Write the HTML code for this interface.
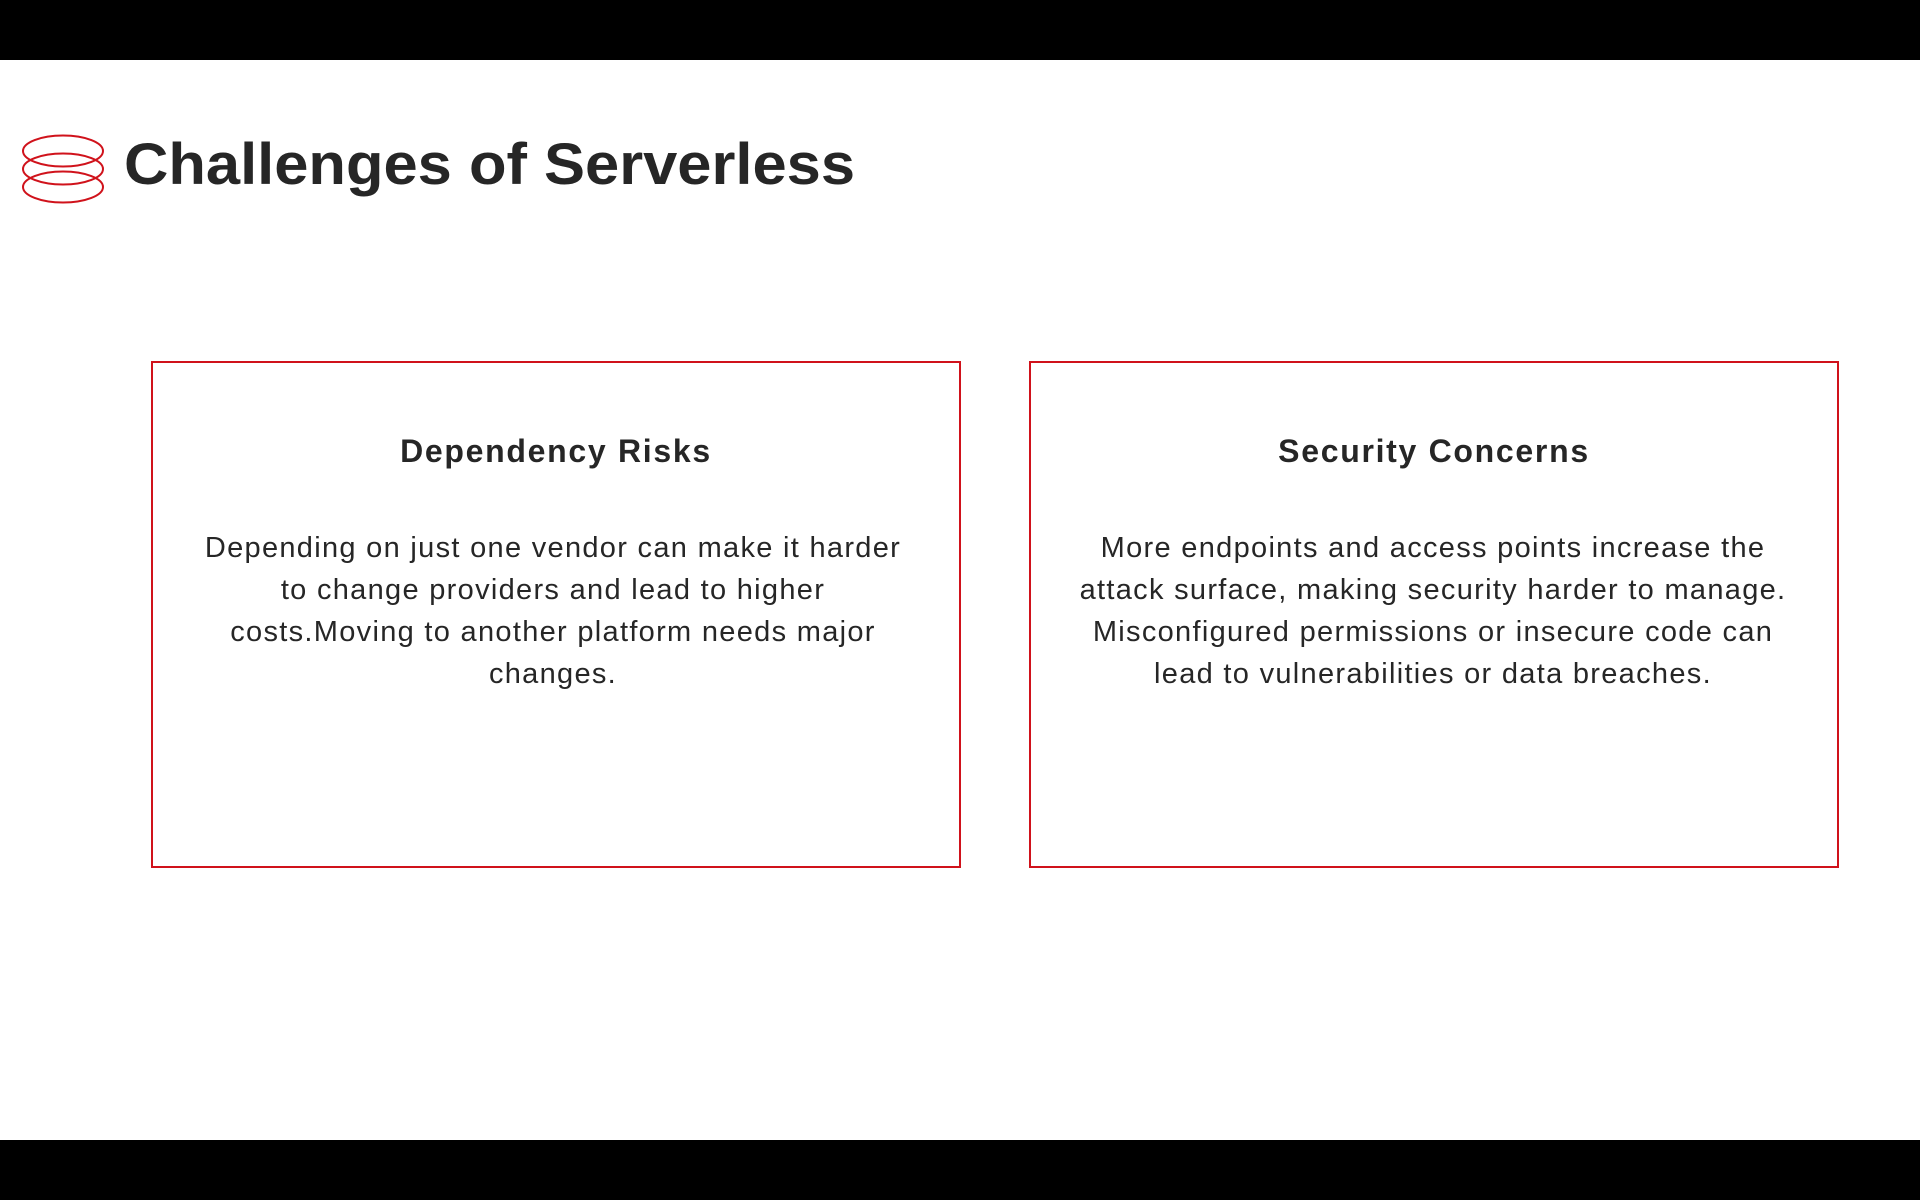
<!DOCTYPE html>
<html><head><meta charset="utf-8"><style>
body{margin:0;width:1920px;height:1200px;position:relative;background:#fff;font-family:"Liberation Sans",sans-serif;color:#262626;overflow:hidden}
.bar{position:absolute;left:0;width:1920px;background:#000}
.box{position:absolute;top:361px;width:810px;height:507px;border:2px solid #d0121b;box-sizing:border-box}
.h{position:absolute;top:431px;text-align:center;font-weight:bold;font-size:32px;line-height:40px;letter-spacing:1.7px}
.p{position:absolute;top:527px;text-align:center;font-size:29px;line-height:42px;letter-spacing:1.3px;white-space:nowrap}
</style></head><body>
<div class="bar" style="top:0;height:60px"></div>
<div class="bar" style="top:1140px;height:60px"></div>
<svg style="position:absolute;left:0;top:0" width="1100" height="230">
<g fill="none" stroke="#d0121b" stroke-width="2">
<ellipse cx="63" cy="151" rx="40" ry="15.5"/>
<ellipse cx="63" cy="169" rx="40" ry="15.5"/>
<ellipse cx="63" cy="187" rx="40" ry="15.5"/>
</g>
<text x="124" y="184" font-family="Liberation Sans" font-weight="bold" font-size="58" fill="#262626" textLength="731" lengthAdjust="spacingAndGlyphs">Challenges of Serverless</text>
</svg>
<div class="box" style="left:151px"></div>
<div class="box" style="left:1029px"></div>
<div class="h" style="left:151px;width:810px">Dependency Risks</div>
<div class="h" style="left:1029px;width:810px">Security Concerns</div>
<div class="p" style="left:148px;width:810px">Depending on just one vendor can make it harder<br>to change providers and lead to higher<br>costs.Moving to another platform needs major<br>changes.</div>
<div class="p" style="left:1028px;width:810px">More endpoints and access points increase the<br>attack surface, making security harder to manage.<br>Misconfigured permissions or insecure code can<br>lead to vulnerabilities or data breaches.</div>
</body></html>
